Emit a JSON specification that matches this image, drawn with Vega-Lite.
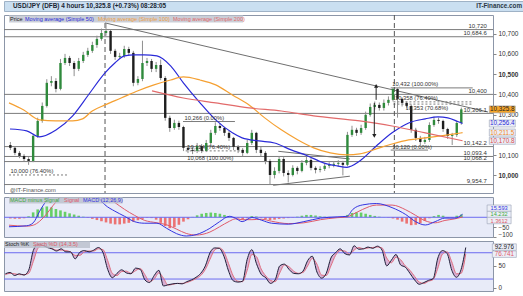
{
"$schema":"https://vega.github.io/schema/vega-lite/v6.json",
"padding":{"left":2,"top":0,"right":0,"bottom":0},
"spacing":2,
"background":"white",
"config":{"font":"Liberation Sans","view":{"stroke":"#8c96a8"},"axisY":{"orient":"right"}},
"datasets":{
"candles":[
{"t":-1.25,"o":10150,"h":10165,"l":10125,"c":10136,"m":-6,"sk":32,"sd":30},
{"t":-0.75,"o":10136,"h":10145,"l":10100,"c":10111,"m":-8,"sk":35,"sd":33},
{"t":-0.25,"o":10111,"h":10120,"l":10085,"c":10096,"m":-7,"sk":28,"sd":32},
{"t":0.25,"o":10096,"h":10105,"l":10070,"c":10081,"m":-5,"sk":32,"sd":30},
{"t":0.75,"o":10081,"h":10090,"l":10052,"c":10071,"m":5,"sk":29,"sd":30},
{"t":1.25,"o":10071,"h":10205,"l":10065,"c":10195,"m":25,"sk":40,"sd":33},
{"t":1.75,"o":10195,"h":10285,"l":10185,"c":10269,"m":40,"sk":85,"sd":60},
{"t":2.25,"o":10269,"h":10360,"l":10260,"c":10343,"m":50,"sk":99,"sd":90},
{"t":2.75,"o":10343,"h":10475,"l":10335,"c":10457,"m":55,"sk":97,"sd":97},
{"t":3.25,"o":10457,"h":10490,"l":10440,"c":10466,"m":50,"sk":92,"sd":94},
{"t":3.75,"o":10466,"h":10480,"l":10410,"c":10427,"m":42,"sk":89,"sd":90},
{"t":4.25,"o":10427,"h":10575,"l":10420,"c":10555,"m":35,"sk":84,"sd":86},
{"t":4.75,"o":10555,"h":10600,"l":10545,"c":10580,"m":28,"sk":89,"sd":86},
{"t":5.25,"o":10580,"h":10590,"l":10540,"c":10555,"m":20,"sk":82,"sd":85},
{"t":5.75,"o":10555,"h":10565,"l":10490,"c":10526,"m":14,"sk":82,"sd":82},
{"t":6.25,"o":10526,"h":10580,"l":10515,"c":10565,"m":8,"sk":66,"sd":74},
{"t":6.75,"o":10565,"h":10610,"l":10555,"c":10595,"m":3,"sk":81,"sd":74},
{"t":7.25,"o":10595,"h":10630,"l":10585,"c":10615,"m":-3,"sk":85,"sd":82},
{"t":7.75,"o":10615,"h":10660,"l":10605,"c":10644,"m":-8,"sk":82,"sd":84},
{"t":8.25,"o":10644,"h":10690,"l":10630,"c":10674,"m":-14,"sk":86,"sd":84},
{"t":8.75,"o":10674,"h":10725,"l":10665,"c":10703,"m":-20,"sk":92,"sd":89},
{"t":9.25,"o":10703,"h":10753,"l":10690,"c":10713,"m":-26,"sk":80,"sd":87},
{"t":9.75,"o":10713,"h":10720,"l":10600,"c":10615,"m":-32,"sk":42,"sd":62},
{"t":10.25,"o":10615,"h":10625,"l":10570,"c":10585,"m":-36,"sk":23,"sd":33},
{"t":10.75,"o":10585,"h":10605,"l":10575,"c":10590,"m":-36,"sk":33,"sd":28},
{"t":11.25,"o":10590,"h":10640,"l":10580,"c":10624,"m":-32,"sk":41,"sd":37},
{"t":11.75,"o":10624,"h":10635,"l":10590,"c":10605,"m":-28,"sk":34,"sd":38},
{"t":12.25,"o":10605,"h":10615,"l":10440,"c":10457,"m":-22,"sk":32,"sd":33},
{"t":12.75,"o":10457,"h":10490,"l":10445,"c":10476,"m":-15,"sk":45,"sd":39},
{"t":13.25,"o":10476,"h":10665,"l":10465,"c":10555,"m":-8,"sk":42,"sd":44},
{"t":13.75,"o":10555,"h":10580,"l":10540,"c":10565,"m":-3,"sk":18,"sd":30},
{"t":14.25,"o":10565,"h":10575,"l":10510,"c":10526,"m":-4,"sk":12,"sd":15},
{"t":14.75,"o":10526,"h":10560,"l":10510,"c":10545,"m":-12,"sk":28,"sd":20},
{"t":15.25,"o":10545,"h":10572,"l":10470,"c":10481,"m":-28,"sk":40,"sd":34},
{"t":15.75,"o":10481,"h":10490,"l":10270,"c":10284,"m":-45,"sk":4,"sd":22},
{"t":16.25,"o":10284,"h":10295,"l":10215,"c":10234,"m":-55,"sk":7,"sd":6},
{"t":16.75,"o":10234,"h":10275,"l":10225,"c":10259,"m":-50,"sk":9,"sd":8},
{"t":17.25,"o":10259,"h":10270,"l":10225,"c":10239,"m":-38,"sk":10,"sd":10},
{"t":17.75,"o":10239,"h":10245,"l":10120,"c":10136,"m":-22,"sk":9,"sd":10},
{"t":18.25,"o":10136,"h":10150,"l":10110,"c":10126,"m":-10,"sk":14,"sd":12},
{"t":18.75,"o":10126,"h":10140,"l":10105,"c":10121,"m":2,"sk":18,"sd":16},
{"t":19.25,"o":10121,"h":10160,"l":10110,"c":10145,"m":10,"sk":24,"sd":21},
{"t":19.75,"o":10145,"h":10155,"l":10110,"c":10121,"m":18,"sk":33,"sd":28},
{"t":20.25,"o":10121,"h":10175,"l":10115,"c":10160,"m":22,"sk":50,"sd":42},
{"t":20.75,"o":10160,"h":10225,"l":10150,"c":10210,"m":24,"sk":80,"sd":65},
{"t":21.25,"o":10210,"h":10262,"l":10200,"c":10244,"m":22,"sk":91,"sd":86},
{"t":21.75,"o":10244,"h":10255,"l":10220,"c":10234,"m":18,"sk":90,"sd":91},
{"t":22.25,"o":10234,"h":10240,"l":10195,"c":10210,"m":12,"sk":72,"sd":82},
{"t":22.75,"o":10210,"h":10220,"l":10170,"c":10185,"m":5,"sk":38,"sd":55},
{"t":23.25,"o":10185,"h":10190,"l":10125,"c":10141,"m":-2,"sk":16,"sd":27},
{"t":23.75,"o":10141,"h":10150,"l":10110,"c":10126,"m":-6,"sk":13,"sd":15},
{"t":24.25,"o":10126,"h":10135,"l":10095,"c":10111,"m":-10,"sk":15,"sd":14},
{"t":24.75,"o":10111,"h":10175,"l":10105,"c":10160,"m":-5,"sk":65,"sd":40},
{"t":25.25,"o":10160,"h":10225,"l":10150,"c":10210,"m":6,"sk":87,"sd":76},
{"t":25.75,"o":10210,"h":10215,"l":10110,"c":10126,"m":4,"sk":55,"sd":71},
{"t":26.25,"o":10126,"h":10140,"l":10095,"c":10111,"m":-4,"sk":31,"sd":43},
{"t":26.75,"o":10111,"h":10120,"l":10055,"c":10071,"m":-10,"sk":23,"sd":27},
{"t":27.25,"o":10071,"h":10080,"l":9955,"c":10002,"m":-14,"sk":10,"sd":17},
{"t":27.75,"o":10002,"h":10040,"l":9985,"c":10022,"m":-12,"sk":18,"sd":14},
{"t":28.25,"o":10022,"h":10095,"l":10010,"c":10081,"m":-8,"sk":50,"sd":34},
{"t":28.75,"o":10081,"h":10090,"l":9995,"c":10012,"m":-6,"sk":54,"sd":52},
{"t":29.25,"o":10012,"h":10025,"l":9965,"c":10002,"m":-4,"sk":42,"sd":48},
{"t":29.75,"o":10002,"h":10050,"l":9995,"c":10037,"m":-2,"sk":33,"sd":38},
{"t":30.25,"o":10037,"h":10045,"l":10005,"c":10022,"m":3,"sk":32,"sd":33},
{"t":30.75,"o":10022,"h":10075,"l":10015,"c":10062,"m":8,"sk":38,"sd":35},
{"t":31.25,"o":10062,"h":10092,"l":10050,"c":10076,"m":12,"sk":62,"sd":50},
{"t":31.75,"o":10076,"h":10085,"l":10025,"c":10037,"m":12,"sk":72,"sd":67},
{"t":32.25,"o":10037,"h":10045,"l":10010,"c":10027,"m":9,"sk":36,"sd":54},
{"t":32.75,"o":10027,"h":10045,"l":10015,"c":10032,"m":5,"sk":22,"sd":29},
{"t":33.25,"o":10032,"h":10060,"l":10022,"c":10047,"m":3,"sk":33,"sd":28},
{"t":33.75,"o":10047,"h":10065,"l":10035,"c":10052,"m":2,"sk":68,"sd":50},
{"t":34.25,"o":10052,"h":10070,"l":10040,"c":10057,"m":1,"sk":80,"sd":74},
{"t":34.75,"o":10057,"h":10075,"l":10045,"c":10062,"m":1,"sk":89,"sd":85},
{"t":35.25,"o":10062,"h":10072,"l":10000,"c":10052,"m":2,"sk":78,"sd":84},
{"t":35.75,"o":10052,"h":10215,"l":10045,"c":10200,"m":12,"sk":75,"sd":77},
{"t":36.25,"o":10200,"h":10245,"l":10190,"c":10225,"m":22,"sk":96,"sd":86},
{"t":36.75,"o":10225,"h":10235,"l":10195,"c":10210,"m":25,"sk":88,"sd":92},
{"t":37.25,"o":10210,"h":10250,"l":10200,"c":10234,"m":24,"sk":89,"sd":89},
{"t":37.75,"o":10234,"h":10315,"l":10225,"c":10299,"m":18,"sk":93,"sd":91},
{"t":38.25,"o":10299,"h":10355,"l":10290,"c":10338,"m":12,"sk":90,"sd":92},
{"t":38.75,"o":10338,"h":10365,"l":10325,"c":10348,"m":7,"sk":95,"sd":93},
{"t":39.25,"o":10348,"h":10360,"l":10320,"c":10333,"m":3,"sk":86,"sd":91},
{"t":39.75,"o":10333,"h":10375,"l":10320,"c":10358,"m":1,"sk":50,"sd":68},
{"t":40.25,"o":10358,"h":10390,"l":10345,"c":10373,"m":-2,"sk":63,"sd":57},
{"t":40.75,"o":10373,"h":10432,"l":10365,"c":10427,"m":-6,"sk":76,"sd":70},
{"t":41.25,"o":10427,"h":10430,"l":10285,"c":10378,"m":-12,"sk":52,"sd":64},
{"t":41.75,"o":10378,"h":10385,"l":10340,"c":10358,"m":-22,"sk":47,"sd":50},
{"t":42.25,"o":10358,"h":10365,"l":10330,"c":10343,"m":-32,"sk":33,"sd":40},
{"t":42.75,"o":10343,"h":10350,"l":10210,"c":10225,"m":-40,"sk":18,"sd":26},
{"t":43.25,"o":10225,"h":10235,"l":10170,"c":10185,"m":-38,"sk":8,"sd":13},
{"t":43.75,"o":10185,"h":10195,"l":10150,"c":10165,"m":-30,"sk":12,"sd":10},
{"t":44.25,"o":10165,"h":10190,"l":10155,"c":10175,"m":-18,"sk":17,"sd":15},
{"t":44.75,"o":10175,"h":10262,"l":10165,"c":10249,"m":-5,"sk":21,"sd":19},
{"t":45.25,"o":10249,"h":10290,"l":10240,"c":10274,"m":6,"sk":68,"sd":45},
{"t":45.75,"o":10274,"h":10285,"l":10255,"c":10269,"m":12,"sk":85,"sd":77},
{"t":46.25,"o":10269,"h":10275,"l":10215,"c":10229,"m":8,"sk":78,"sd":82},
{"t":46.75,"o":10229,"h":10235,"l":10180,"c":10195,"m":-3,"sk":40,"sd":59},
{"t":47.25,"o":10195,"h":10210,"l":10150,"c":10200,"m":-2,"sk":24,"sd":32},
{"t":47.75,"o":10200,"h":10270,"l":10190,"c":10259,"m":8,"sk":42,"sd":33},
{"t":48.25,"o":10259,"h":10335,"l":10250,"c":10326,"m":14,"sk":92,"sd":77}
],
"ma":[
{"s":"50","t":-1.29,"v":10229},{"s":"50","t":0.54,"v":10220},{"s":"50","t":1.94,"v":10190},{"s":"50","t":3.76,"v":10224},{"s":"50","t":5.59,"v":10294},{"s":"50","t":7.31,"v":10397},{"s":"50","t":9.14,"v":10506},{"s":"50","t":10.22,"v":10555},{"s":"50","t":11.29,"v":10590},{"s":"50","t":12.37,"v":10595},{"s":"50","t":13.44,"v":10595},{"s":"50","t":14.84,"v":10590},{"s":"50","t":16.34,"v":10541},{"s":"50","t":17.74,"v":10457},{"s":"50","t":19.57,"v":10358},{"s":"50","t":21.29,"v":10274},{"s":"50","t":23.12,"v":10210},{"s":"50","t":24.19,"v":10185},{"s":"50","t":26.02,"v":10170},{"s":"50","t":27.74,"v":10160},{"s":"50","t":29.57,"v":10126},{"s":"50","t":31.4,"v":10096},{"s":"50","t":33.12,"v":10062},{"s":"50","t":34.62,"v":10047},{"s":"50","t":35.7,"v":10040},{"s":"50","t":37.1,"v":10071},{"s":"50","t":38.92,"v":10145},{"s":"50","t":40.65,"v":10210},{"s":"50","t":42.47,"v":10259},{"s":"50","t":44.3,"v":10279},{"s":"50","t":45.7,"v":10289},{"s":"50","t":46.77,"v":10284},{"s":"50","t":47.85,"v":10266},{"s":"50","t":48.39,"v":10256},
{"s":"100","t":-1.4,"v":10358},{"s":"100","t":0.22,"v":10323},{"s":"100","t":1.94,"v":10274},{"s":"100","t":3.76,"v":10269},{"s":"100","t":5.59,"v":10269},{"s":"100","t":6.67,"v":10279},{"s":"100","t":7.74,"v":10318},{"s":"100","t":9.14,"v":10348},{"s":"100","t":10.97,"v":10383},{"s":"100","t":12.69,"v":10417},{"s":"100","t":14.52,"v":10447},{"s":"100","t":16.34,"v":10471},{"s":"100","t":17.74,"v":10486},{"s":"100","t":19.57,"v":10471},{"s":"100","t":21.29,"v":10447},{"s":"100","t":23.12,"v":10397},{"s":"100","t":24.95,"v":10348},{"s":"100","t":26.67,"v":10284},{"s":"100","t":28.49,"v":10225},{"s":"100","t":30.32,"v":10175},{"s":"100","t":32.04,"v":10136},{"s":"100","t":33.87,"v":10111},{"s":"100","t":35.7,"v":10101},{"s":"100","t":37.1,"v":10106},{"s":"100","t":38.92,"v":10131},{"s":"100","t":40.65,"v":10155},{"s":"100","t":42.47,"v":10175},{"s":"100","t":44.3,"v":10185},{"s":"100","t":46.02,"v":10195},{"s":"100","t":47.53,"v":10205},{"s":"100","t":48.39,"v":10211},
{"s":"200","t":14.3,"v":10417},{"s":"200","t":17.74,"v":10382},{"s":"200","t":21.29,"v":10358},{"s":"200","t":24.95,"v":10333},{"s":"200","t":28.49,"v":10318},{"s":"200","t":32.04,"v":10294},{"s":"200","t":37.1,"v":10269},{"s":"200","t":40.65,"v":10244},{"s":"200","t":44.3,"v":10210},{"s":"200","t":48.39,"v":10171}
],
"macd":[
{"t":-1.4,"m":-48,"s":-40},{"t":0.54,"m":-43,"s":-45},{"t":1.26,"m":-28,"s":-40},{"t":1.97,"m":31,"s":-20},{"t":2.69,"m":84,"s":15},{"t":3.44,"m":129,"s":60},{"t":4.84,"m":172,"s":130},{"t":6.45,"m":161,"s":160},{"t":8.06,"m":119,"s":145},{"t":9.14,"m":63,"s":110},{"t":10.22,"m":31,"s":75},{"t":11.29,"m":5,"s":40},{"t":12.37,"m":-22,"s":10},{"t":13.44,"m":-30,"s":-15},{"t":14.84,"m":-30,"s":-28},{"t":15.91,"m":-56,"s":-38},{"t":16.99,"m":-83,"s":-60},{"t":18.06,"m":-95,"s":-82},{"t":19.14,"m":-88,"s":-90},{"t":20.65,"m":-56,"s":-75},{"t":21.72,"m":-22,"s":-48},{"t":22.8,"m":5,"s":-20},{"t":23.44,"m":-4,"s":-8},{"t":24.19,"m":-22,"s":-12},{"t":25.27,"m":-1,"s":-12},{"t":26.34,"m":-15,"s":-10},{"t":27.42,"m":-30,"s":-20},{"t":29.25,"m":-35,"s":-32},{"t":30.97,"m":-22,"s":-28},{"t":32.8,"m":-4,"s":-12},{"t":34.62,"m":2,"s":-2},{"t":35.7,"m":5,"s":2},{"t":36.34,"m":40,"s":15},{"t":37.42,"m":63,"s":40},{"t":38.92,"m":70,"s":62},{"t":40.65,"m":49,"s":62},{"t":42.15,"m":14,"s":38},{"t":43.23,"m":-22,"s":10},{"t":44.3,"m":-39,"s":-18},{"t":45.38,"m":-22,"s":-28},{"t":46.45,"m":-4,"s":-16},{"t":47.53,"m":-4,"s":-8},{"t":48.39,"m":15.6,"s":1.4}
],
"levels":[{"v":10720,"lbl":"10,720"},{"v":10684.6,"lbl":"10,684.6"},{"v":10400,"lbl":"10,400"},{"v":10306.1,"lbl":"10,306.1"},{"v":10142.2,"lbl":"10,142.2"},{"v":10093.4,"lbl":"10,093.4"},{"v":10068.2,"lbl":"10,068.2"},{"v":9954.7,"lbl":"9,954.7"}],
"fib":[{"t1":40.5,"t2":49.5,"v":10432,"lbl":"10,432 (100.00%)"},{"t1":17.7,"t2":23.4,"v":10266,"lbl":"10,266 (0.00%)"},{"t1":40.5,"t2":44.6,"v":10125,"lbl":"10,120 (0.00%)"},{"t1":18.0,"t2":18.0,"v":10068.2,"lbl":"10,068 (100.00%)"}],
"fibdot":[{"t1":-1.4,"t2":5.05,"v":10002,"lbl":"10,000 (76.40%)"},{"t1":18.0,"t2":24.8,"v":10121,"lbl":"10,124 (76.40%)"},{"t1":40.8,"t2":49.5,"v":10363,"lbl":"10,358 (76.40%)"},{"t1":40.8,"t2":49.5,"v":10352,"lbl":"10,353 (70.68%)"}],
"trend":[{"t1":9.14,"t2":51.18,"p1":10753,"p2":10313},{"t1":28.16,"t2":36.02,"p1":10119,"p2":10081},{"t1":27.6,"t2":36.02,"p1":9951,"p2":9996}],
"vlines":[{"t":9.14},{"t":40.9}],
"arrows":[{"t":38.9,"p1":10373,"p2":10442},{"t":38.7,"p1":10195,"p2":10358}],
"heads":[{"t":38.9,"p":10442,"dir":"up"},{"t":38.7,"p":10195,"dir":"down"}],
"mainbox":[{"v":10325.8,"lbl":"10,325.8","s":"px"},{"v":10256.4,"lbl":"10,256.4","s":"50"},{"v":10211.5,"lbl":"10,211.5","s":"100"},{"v":10170.8,"lbl":"10,170.8","s":"200"}],
"macdbox":[{"v":15.593,"lbl":"15.593","s":"macd"},{"v":14.232,"lbl":"14.232","s":"hist"},{"v":1.3612,"lbl":"1.3612","s":"sig"}],
"stochbox":[{"v":92.976,"lbl":"92.976","s":"k"},{"v":76.741,"lbl":"76.741","s":"d"}],
"stochlines":[{"v":20},{"v":80}]
},
"vconcat":[
{
"width":521,"height":10,
"view":{"fill":"#cadff1","stroke":"#9fb2c6"},
"data":{"values":[{"a":"USD/JPY (DFB)  4 hours  10,325.8 (+0.73%)  08:28:05","b":"IT-Finance.com"}]},
"layer":[
{"mark":{"type":"text","align":"left","baseline":"middle","fontSize":6.4,"fontWeight":"bold","color":"#1b2733","dx":9},
 "encoding":{"x":{"datum":0,"type":"quantitative","scale":{"domain":[0,1]},"axis":null},"text":{"field":"a"}}},
{"mark":{"type":"text","align":"right","baseline":"middle","fontSize":6.3,"fontWeight":"bold","color":"#2b3744","dx":-3},
 "encoding":{"x":{"datum":1,"type":"quantitative","axis":null},"text":{"field":"b"}}}
]
},
{
"width":489,"height":178,
"view":{"fill":"white","stroke":"#8c96a8"},
"resolve":{"scale":{"color":"independent","fill":"independent","shape":"independent"},"axis":{"y":"independent"}},
"layer":[
{"data":{"name":"levels"},"mark":{"type":"rule","color":"#7b7b7b","strokeWidth":1},
 "encoding":{"y":{"field":"v","type":"quantitative","scale":{"domain":[9913,10792],"nice":false,"zero":false},
  "axis":{"orient":"right","title":null,"values":[10000,10100,10300,10400,10500,10600,10700],"format":",d","grid":false,"domain":false,"tickSize":3,"tickColor":"#888","labelFontSize":6.5,"labelColor":"#333","labelPadding":2,
   "labelFontWeight":{"condition":{"test":"datum.value==10000||datum.value==10500","value":"bold"},"value":"normal"}}}}},
{"data":{"name":"fib"},"mark":{"type":"rule","color":"#7b7b7b","strokeWidth":1},
 "encoding":{"x":{"field":"t1","type":"quantitative","scale":{"domain":[-1.4,51.18],"nice":false,"zero":false},"axis":null},"x2":{"field":"t2"},"y":{"field":"v","type":"quantitative","axis":null}}},
{"data":{"name":"fibdot"},"mark":{"type":"rule","color":"#7b7b7b","strokeWidth":1,"strokeDash":[2,2]},
 "encoding":{"x":{"field":"t1","type":"quantitative","axis":null},"x2":{"field":"t2"},"y":{"field":"v","type":"quantitative","axis":null}}},
{"data":{"name":"trend"},"mark":{"type":"rule","color":"#6f6f6f","strokeWidth":1},
 "encoding":{"x":{"field":"t1","type":"quantitative","axis":null},"x2":{"field":"t2"},"y":{"field":"p1","type":"quantitative","axis":null},"y2":{"field":"p2"}}},
{"data":{"name":"vlines"},"mark":{"type":"rule","color":"#555","strokeWidth":1,"strokeDash":[5,3]},
 "encoding":{"x":{"field":"t","type":"quantitative","axis":null}}},
{"data":{"name":"candles"},"mark":{"type":"rule","color":"#8f8f8f","strokeWidth":1},
 "encoding":{"x":{"field":"t","type":"quantitative","axis":null},"y":{"field":"l","type":"quantitative","axis":null},"y2":{"field":"h"}}},
{"data":{"name":"candles"},"mark":{"type":"bar","size":2.4},
 "encoding":{"x":{"field":"t","type":"quantitative","axis":null},"y":{"field":"o","type":"quantitative","axis":null},"y2":{"field":"c"},
  "color":{"condition":{"test":"datum.c>=datum.o","value":"#2f8a3c"},"value":"#1e1e1e"}}},
{"data":{"name":"ma"},"mark":{"type":"line","strokeWidth":1.2,"interpolate":"monotone"},
 "encoding":{"x":{"field":"t","type":"quantitative","axis":null},"y":{"field":"v","type":"quantitative","axis":null},
  "color":{"field":"s","type":"nominal","scale":{"domain":["50","100","200"],"range":["#2a2ad8","#f5a032","#e26a6a"]},"legend":null}}},
{"data":{"name":"arrows"},"mark":{"type":"rule","color":"#222","strokeWidth":1},
 "encoding":{"x":{"field":"t","type":"quantitative","axis":null},"y":{"field":"p1","type":"quantitative","axis":null},"y2":{"field":"p2"}}},
{"data":{"name":"heads"},"mark":{"type":"point","filled":true,"size":18,"opacity":1,"color":"#222"},
 "encoding":{"x":{"field":"t","type":"quantitative","axis":null},"y":{"field":"p","type":"quantitative","axis":null},
  "shape":{"field":"dir","type":"nominal","scale":{"domain":["up","down"],"range":["triangle-up","triangle-down"]},"legend":null}}},
{"data":{"name":"levels"},"mark":{"type":"text","align":"right","baseline":"bottom","fontSize":6,"color":"#333","dy":-0.5},
 "encoding":{"x":{"datum":51.05,"type":"quantitative","axis":null},"y":{"field":"v","type":"quantitative","axis":null},"text":{"field":"lbl"}}},
{"data":{"name":"fib"},"mark":{"type":"text","align":"left","baseline":"bottom","fontSize":5.8,"color":"#333","dx":1.5,"dy":-0.5},
 "encoding":{"x":{"field":"t1","type":"quantitative","axis":null},"y":{"field":"v","type":"quantitative","axis":null},"text":{"field":"lbl"}}},
{"data":{"name":"fibdot"},"transform":[{"filter":"datum.v!=10352"}],"mark":{"type":"text","align":"left","baseline":"bottom","fontSize":5.8,"color":"#333","dx":1.5,"dy":-0.5},
 "encoding":{"x":{"field":"t1","type":"quantitative","axis":null},"y":{"field":"v","type":"quantitative","axis":null},"text":{"field":"lbl"}}},
{"data":{"name":"fibdot"},"transform":[{"filter":"datum.v==10352"}],"mark":{"type":"text","align":"left","baseline":"top","fontSize":5.8,"color":"#333","dx":12,"dy":0.5},
 "encoding":{"x":{"field":"t1","type":"quantitative","axis":null},"y":{"field":"v","type":"quantitative","axis":null},"text":{"field":"lbl"}}},
{"data":{"values":[{}]},"mark":{"type":"rect","color":"#b9bfcb","opacity":0.75},
 "encoding":{"x":{"datum":-1.4,"type":"quantitative","axis":null},"x2":{"datum":24.3},"y":{"datum":10792,"type":"quantitative","axis":null},"y2":{"datum":10755}}},
{"data":{"values":[{"a":"Price"}]},"mark":{"type":"text","align":"left","baseline":"top","fontSize":5.5,"color":"#222","dx":1,"dy":1.5},
 "encoding":{"x":{"datum":-1.4,"type":"quantitative","axis":null},"y":{"datum":10792,"type":"quantitative","axis":null},"text":{"field":"a"}}},
{"data":{"values":[{"a":"Moving average (Simple 50)"}]},"mark":{"type":"text","align":"left","baseline":"top","fontSize":5.5,"color":"#2a2ad8","dx":16,"dy":1.5},
 "encoding":{"x":{"datum":-1.4,"type":"quantitative","axis":null},"y":{"datum":10792,"type":"quantitative","axis":null},"text":{"field":"a"}}},
{"data":{"values":[{"a":"Moving average (Simple 100)"}]},"mark":{"type":"text","align":"left","baseline":"top","fontSize":5.5,"color":"#f0a040","dx":89,"dy":1.5},
 "encoding":{"x":{"datum":-1.4,"type":"quantitative","axis":null},"y":{"datum":10792,"type":"quantitative","axis":null},"text":{"field":"a"}}},
{"data":{"values":[{"a":"Moving average (Simple 200)"}]},"mark":{"type":"text","align":"left","baseline":"top","fontSize":5.5,"color":"#e06a6a","dx":164,"dy":1.5},
 "encoding":{"x":{"datum":-1.4,"type":"quantitative","axis":null},"y":{"datum":10792,"type":"quantitative","axis":null},"text":{"field":"a"}}},
{"data":{"values":[{"a":"@IT-Finance.com"}]},"mark":{"type":"text","align":"left","baseline":"bottom","fontSize":5.8,"color":"#555","dx":1,"dy":-0.5},
 "encoding":{"x":{"datum":-1.4,"type":"quantitative","axis":null},"y":{"datum":9913,"type":"quantitative","axis":null},"text":{"field":"a"}}},
{"data":{"name":"mainbox"},"mark":{"type":"point","shape":"M-1,-0.27H1V0.27H-1Z","size":676,"filled":true,"opacity":1,"stroke":"#9aa3b5","strokeWidth":0.6},
 "encoding":{"x":{"datum":52.75,"type":"quantitative","axis":null},"y":{"field":"v","type":"quantitative","axis":null},
  "fill":{"field":"s","type":"nominal","scale":{"domain":["px","50","100","200"],"range":["#f6a62a","#eceef7","#eceef7","#eceef7"]},"legend":null}}},
{"data":{"name":"mainbox"},"mark":{"type":"text","align":"center","baseline":"middle","fontSize":6.3},
 "encoding":{"x":{"datum":52.75,"type":"quantitative","axis":null},"y":{"field":"v","type":"quantitative","axis":null},"text":{"field":"lbl"},
  "color":{"field":"s","type":"nominal","scale":{"domain":["px","50","100","200"],"range":["#222222","#2a2ad8","#f08c1e","#d94c4c"]},"legend":null}}}
]
},
{
"width":489,"height":40,
"view":{"fill":"#e8ebf8","stroke":"#8c96a8"},
"resolve":{"axis":{"y":"independent"}},
"layer":[
{"data":{"name":"candles"},"mark":{"type":"bar","size":2.6},
 "encoding":{"x":{"field":"t","type":"quantitative","scale":{"domain":[-1.4,51.18],"nice":false,"zero":false},"axis":null},
  "y":{"field":"m","type":"quantitative","scale":{"domain":[-100,103],"nice":false,"zero":false},
   "axis":{"orient":"right","title":null,"values":[-100,-50],"grid":false,"domain":false,"tickSize":3,"tickColor":"#888","labelFontSize":6.3,"labelColor":"#333","labelPadding":2,"labelFlush":true}},
  "y2":{"datum":0},
  "color":{"condition":{"test":"datum.m>=0","value":"#66cf66"},"value":"#ec7272"}}},
{"data":{"values":[{}]},"mark":{"type":"rule","color":"#6b6bf0","strokeWidth":1},
 "encoding":{"y":{"datum":0,"type":"quantitative","axis":null}}},
{"data":{"name":"macd"},"mark":{"type":"line","color":"#e05a6a","strokeWidth":1,"clip":true,"interpolate":"monotone"},
 "encoding":{"x":{"field":"t","type":"quantitative","axis":null},"y":{"field":"s","type":"quantitative","axis":null}}},
{"data":{"name":"macd"},"mark":{"type":"line","color":"#3434e0","strokeWidth":1,"clip":true,"interpolate":"monotone"},
 "encoding":{"x":{"field":"t","type":"quantitative","axis":null},"y":{"field":"m","type":"quantitative","axis":null}}},
{"data":{"values":[{}]},"mark":{"type":"rect","color":"#b9bfcb","opacity":0.8},
 "encoding":{"x":{"datum":-1.4,"type":"quantitative","axis":null},"x2":{"datum":11.07},"y":{"datum":103,"type":"quantitative","axis":null},"y2":{"datum":70}}},
{"data":{"values":[{"a":"MACD minus Signal"}]},"mark":{"type":"text","align":"left","baseline":"top","fontSize":5.5,"color":"#3faa3f","dx":1,"dy":0.5},
 "encoding":{"x":{"datum":-1.4,"type":"quantitative","axis":null},"y":{"datum":103,"type":"quantitative","axis":null},"text":{"field":"a"}}},
{"data":{"values":[{"a":"Signal"}]},"mark":{"type":"text","align":"left","baseline":"top","fontSize":5.5,"color":"#e05a6a","dx":55,"dy":0.5},
 "encoding":{"x":{"datum":-1.4,"type":"quantitative","axis":null},"y":{"datum":103,"type":"quantitative","axis":null},"text":{"field":"a"}}},
{"data":{"values":[{"a":"MACD (12,26,9)"}]},"mark":{"type":"text","align":"left","baseline":"top","fontSize":5.5,"color":"#3434e0","dx":74,"dy":0.5},
 "encoding":{"x":{"datum":-1.4,"type":"quantitative","axis":null},"y":{"datum":103,"type":"quantitative","axis":null},"text":{"field":"a"}}},
{"data":{"name":"macdbox"},"transform":[{"filter":"datum.s=='macd'"}],"mark":{"type":"point","shape":"M-1,-0.77H1V-0.23H-1Z","size":576,"filled":true,"opacity":1,"color":"#eceef7","stroke":"#9aa3b5","strokeWidth":0.6},
 "encoding":{"x":{"datum":52.4,"type":"quantitative","axis":null},"y":{"field":"v","type":"quantitative","axis":null}}},
{"data":{"name":"macdbox"},"transform":[{"filter":"datum.s=='macd'"}],"mark":{"type":"text","align":"center","baseline":"middle","fontSize":5.6,"color":"#3434e0","dy":-6},
 "encoding":{"x":{"datum":52.4,"type":"quantitative","axis":null},"y":{"field":"v","type":"quantitative","axis":null},"text":{"field":"lbl"}}},
{"data":{"name":"macdbox"},"transform":[{"filter":"datum.s=='hist'"}],"mark":{"type":"point","shape":"M-1,-0.27H1V0.27H-1Z","size":576,"filled":true,"opacity":1,"color":"#eceef7","stroke":"#9aa3b5","strokeWidth":0.6},
 "encoding":{"x":{"datum":52.4,"type":"quantitative","axis":null},"y":{"field":"v","type":"quantitative","axis":null}}},
{"data":{"name":"macdbox"},"transform":[{"filter":"datum.s=='hist'"}],"mark":{"type":"text","align":"center","baseline":"middle","fontSize":5.6,"color":"#3faa3f"},
 "encoding":{"x":{"datum":52.4,"type":"quantitative","axis":null},"y":{"field":"v","type":"quantitative","axis":null},"text":{"field":"lbl"}}},
{"data":{"name":"macdbox"},"transform":[{"filter":"datum.s=='sig'"}],"mark":{"type":"point","shape":"M-1,0.02H1V0.56H-1Z","size":576,"filled":true,"opacity":1,"color":"#eceef7","stroke":"#9aa3b5","strokeWidth":0.6},
 "encoding":{"x":{"datum":52.4,"type":"quantitative","axis":null},"y":{"field":"v","type":"quantitative","axis":null}}},
{"data":{"name":"macdbox"},"transform":[{"filter":"datum.s=='sig'"}],"mark":{"type":"text","align":"center","baseline":"middle","fontSize":5.6,"color":"#e05a6a","dy":3.5},
 "encoding":{"x":{"datum":52.4,"type":"quantitative","axis":null},"y":{"field":"v","type":"quantitative","axis":null},"text":{"field":"lbl"}}}
]
},
{
"width":489,"height":50,
"view":{"fill":"#e8ebf8","stroke":"#8c96a8"},
"resolve":{"scale":{"color":"independent"},"axis":{"y":"independent"}},
"layer":[
{"data":{"name":"candles"},"mark":{"type":"area","color":"#d3a5cc","opacity":0.85,"interpolate":"monotone"},
 "encoding":{"x":{"field":"t","type":"quantitative","scale":{"domain":[-1.4,51.18],"nice":false,"zero":false},
   "axis":{"orient":"bottom","title":null,"values":[0,2,5,7,10,12,16,18,20,22,25,27,30,32,35,37,39,42,45,47,50],
    "labelExpr":"['08','12','15','19','22','26','Aug','03','05','09','12','16','19','23','26','30','Sep','06','09','13','16'][indexof([0,2,5,7,10,12,16,18,20,22,25,27,30,32,35,37,39,42,45,47,50], datum.value)]",
    "grid":false,"domain":false,"tickSize":2,"tickColor":"#888","labelFontSize":6.3,"labelColor":"#333","labelPadding":1,
    "labelFontWeight":{"condition":{"test":"datum.value==16||datum.value==39","value":"bold"},"value":"normal"}}},
  "y":{"field":"sk","type":"quantitative","scale":{"domain":[-7.3,106.8],"nice":false,"zero":false},
   "axis":{"orient":"right","title":null,"values":[0,50],"grid":false,"domain":false,"tickSize":3,"tickColor":"#888","labelFontSize":6.3,"labelColor":"#333","labelPadding":2}},
  "y2":{"field":"sd"}}},
{"data":{"name":"stochlines"},"mark":{"type":"rule","color":"#6b6bf0","strokeWidth":1},
 "encoding":{"y":{"field":"v","type":"quantitative","axis":null}}},
{"data":{"name":"candles"},"mark":{"type":"line","color":"#e07080","strokeWidth":1,"interpolate":"monotone"},
 "encoding":{"x":{"field":"t","type":"quantitative","axis":null},"y":{"field":"sd","type":"quantitative","axis":null}}},
{"data":{"name":"candles"},"mark":{"type":"line","color":"#20203a","strokeWidth":1,"interpolate":"monotone"},
 "encoding":{"x":{"field":"t","type":"quantitative","axis":null},"y":{"field":"sk","type":"quantitative","axis":null}}},
{"data":{"values":[{}]},"mark":{"type":"rect","color":"#b9bfcb","opacity":0.8},
 "encoding":{"x":{"datum":-1.4,"type":"quantitative","axis":null},"x2":{"datum":7.85},"y":{"datum":106.8,"type":"quantitative","axis":null},"y2":{"datum":90.8}}},
{"data":{"values":[{"a":"Stoch %K"}]},"mark":{"type":"text","align":"left","baseline":"top","fontSize":5.5,"color":"#222","dx":1,"dy":0.8},
 "encoding":{"x":{"datum":-1.4,"type":"quantitative","axis":null},"y":{"datum":106.8,"type":"quantitative","axis":null},"text":{"field":"a"}}},
{"data":{"values":[{"a":"Stoch %D (14,3,5)"}]},"mark":{"type":"text","align":"left","baseline":"top","fontSize":5.5,"color":"#e05a6a","dx":29,"dy":0.8},
 "encoding":{"x":{"datum":-1.4,"type":"quantitative","axis":null},"y":{"datum":106.8,"type":"quantitative","axis":null},"text":{"field":"a"}}},
{"data":{"name":"stochbox"},"mark":{"type":"point","shape":"M-1,-0.27H1V0.27H-1Z","size":576,"filled":true,"opacity":1,"color":"#eceef7","stroke":"#9aa3b5","strokeWidth":0.6},
 "encoding":{"x":{"datum":52.4,"type":"quantitative","axis":null},"y":{"field":"v","type":"quantitative","axis":null}}},
{"data":{"name":"stochbox"},"mark":{"type":"text","align":"center","baseline":"middle","fontSize":6.3},
 "encoding":{"x":{"datum":52.4,"type":"quantitative","axis":null},"y":{"field":"v","type":"quantitative","axis":null},"text":{"field":"lbl"},
  "color":{"field":"s","type":"nominal","scale":{"domain":["k","d"],"range":["#222222","#e05a6a"]},"legend":null}}}
]
}
]
}
